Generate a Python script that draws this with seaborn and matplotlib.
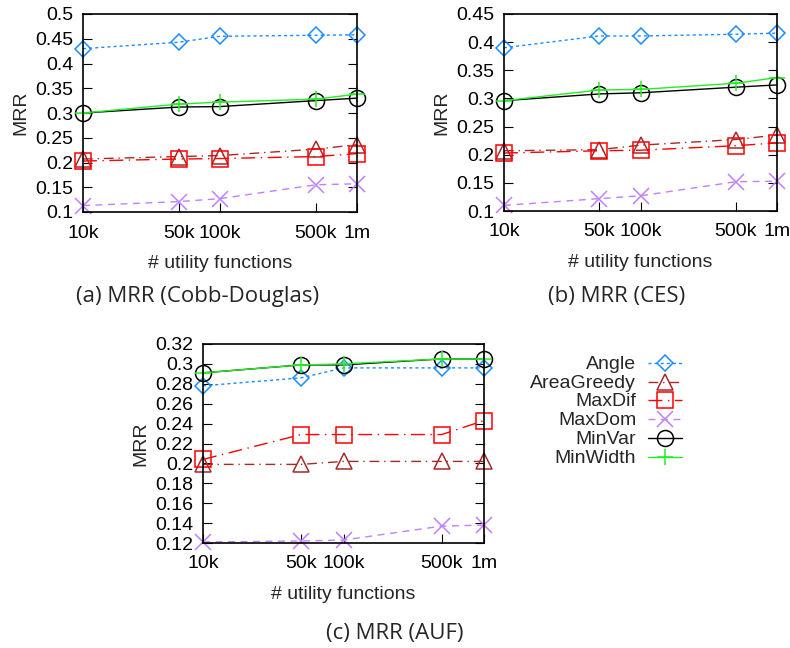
import matplotlib
matplotlib.use("Agg")
import matplotlib.pyplot as plt
import seaborn as sns
import numpy as np

# number of utility functions (x axis, log scale)
n_funcs = [1e4, 5e4, 1e5, 5e5, 1e6]
x_tick_labels = ["10k", "50k", "100k", "500k", "1m"]

methods = ["Angle", "AreaGreedy", "MaxDif", "MaxDom", "MinVar", "MinWidth"]

# MRR, Cobb-Douglas utilities
mrr_cd = {
    "Angle":      [0.430, 0.443, 0.455, 0.457, 0.458],
    "AreaGreedy": [0.207, 0.212, 0.214, 0.227, 0.236],
    "MaxDif":     [0.203, 0.207, 0.208, 0.212, 0.218],
    "MaxDom":     [0.113, 0.121, 0.127, 0.155, 0.157],
    "MinVar":     [0.300, 0.312, 0.313, 0.325, 0.330],
    "MinWidth":   [0.300, 0.318, 0.322, 0.328, 0.338],
}

# MRR, CES utilities
mrr_ces = {
    "Angle":      [0.390, 0.411, 0.411, 0.414, 0.416],
    "AreaGreedy": [0.207, 0.209, 0.217, 0.227, 0.235],
    "MaxDif":     [0.203, 0.207, 0.208, 0.216, 0.221],
    "MaxDom":     [0.110, 0.122, 0.127, 0.152, 0.153],
    "MinVar":     [0.296, 0.308, 0.310, 0.320, 0.324],
    "MinWidth":   [0.296, 0.315, 0.316, 0.327, 0.337],
}

# MRR, AUF utilities
mrr_auf = {
    "Angle":      [0.278, 0.286, 0.296, 0.296, 0.296],
    "AreaGreedy": [0.199, 0.199, 0.202, 0.202, 0.202],
    "MaxDif":     [0.204, 0.229, 0.229, 0.229, 0.243],
    "MaxDom":     [0.121, 0.122, 0.123, 0.137, 0.138],
    "MinVar":     [0.291, 0.299, 0.299, 0.305, 0.305],
    "MinWidth":   [0.291, 0.299, 0.300, 0.305, 0.305],
}

yticks_cd = [0.1, 0.15, 0.2, 0.25, 0.3, 0.35, 0.4, 0.45, 0.5]
yticks_ces = [0.1, 0.15, 0.2, 0.25, 0.3, 0.35, 0.4, 0.45]
yticks_auf = [0.12, 0.14, 0.16, 0.18, 0.2, 0.22, 0.24, 0.26, 0.28, 0.3, 0.32]

captions = ["(a) MRR (Cobb-Douglas)", "(b) MRR (CES)", "(c) MRR (AUF)"]

styles = {
    "Angle":      dict(color="#1a8cff", marker="D", ms=7.8, ls=(0, (2.2, 2.2))),
    "AreaGreedy": dict(color="#a52a2a", marker="^", ms=11, ls=(0, (7, 3.5, 1, 3.5))),
    "MaxDif":     dict(color="#ff0000", marker="s", ms=11.5, ls=(0, (10, 4, 1, 4))),
    "MaxDom":     dict(color="#c080ff", marker="x", ms=11, ls=(0, (5, 4))),
    "MinVar":     dict(color="#000000", marker="o", ms=11.5, ls="-"),
    "MinWidth":   dict(color="#22ee22", marker="+", ms=12, ls="-"),
}

sns.set_theme(style="white")
plt.rcParams["font.family"] = ["Liberation Sans", "DejaVu Sans"]
plt.rcParams["axes.linewidth"] = 1.2

FS = 14
W, H = 790, 648
fig = plt.figure(figsize=(W / 100, H / 100), dpi=100)

def px_axes(left, top, right, bottom):
    return fig.add_axes([left / W, 1 - bottom / H, (right - left) / W, (bottom - top) / H])

panels = [
    (px_axes(83, 14, 357, 212), mrr_cd, yticks_cd),
    (px_axes(504, 14, 777, 211), mrr_ces, yticks_ces),
    (px_axes(203, 344, 484, 543), mrr_auf, yticks_auf),
]

for ax, data, yticks in panels:
    for m in methods:
        st = styles[m]
        sns.lineplot(x=n_funcs, y=data[m], ax=ax, color=st["color"],
                     marker=st["marker"], markersize=st["ms"],
                     mfc="none", mec=st["color"], mew=1.1,
                     linestyle=st["ls"], linewidth=1.0,
                     clip_on=False, legend=False, errorbar=None)
    ax.set_xscale("log")
    ax.set_xlim(n_funcs[0], n_funcs[-1])
    ax.set_ylim(yticks[0], yticks[-1])
    ax.set_xticks(n_funcs)
    ax.set_xticklabels(x_tick_labels)
    ax.xaxis.set_minor_locator(matplotlib.ticker.NullLocator())
    ax.set_yticks(yticks)
    ax.set_yticklabels([f"{v:g}" for v in yticks])
    ax.tick_params(axis="x", which="major", direction="in", length=6.5, width=0.8,
                   labelsize=FS, pad=9, bottom=True, top=False, colors="black")
    ax.tick_params(axis="y", which="major", direction="in", length=6.5, width=0.8,
                   labelsize=FS, pad=7, left=True, right=True, colors="black")
    for sp in ax.spines.values():
        sp.set_color("black")
        sp.set_linewidth(1.2)
    ax.set_xlabel("# utility functions", fontsize=FS)
    ax.set_ylabel("MRR", fontsize=FS)
    bbox = ax.get_position()
    ax.xaxis.set_label_coords(0.5, -43 / (bbox.height * H))
    ax.yaxis.set_label_coords(-54 / (bbox.width * W), 0.5)

# legend beside the AUF panel
handles = panels[2][0].get_lines()[:len(methods)]
fig.legend(handles, methods, loc="upper right",
           bbox_to_anchor=(682 / W, 1 - 356 / H), frameon=False,
           markerfirst=False, fontsize=FS, borderpad=0, borderaxespad=0,
           labelspacing=0.09, handleheight=0.5, handlelength=1.75,
           handletextpad=0.6)

cap_font = ["Open Sans", "DejaVu Sans"]
fig.text(198 / W, 1 - 297 / H, captions[0], ha="center", va="center",
         fontsize=16, family=cap_font)
fig.text(617 / W, 1 - 297 / H, captions[1], ha="center", va="center",
         fontsize=16, family=cap_font)
fig.text(395 / W, 1 - 633 / H, captions[2], ha="center", va="center",
         fontsize=16, family=cap_font)

fig.savefig("out.png", dpi=100, facecolor="white")
